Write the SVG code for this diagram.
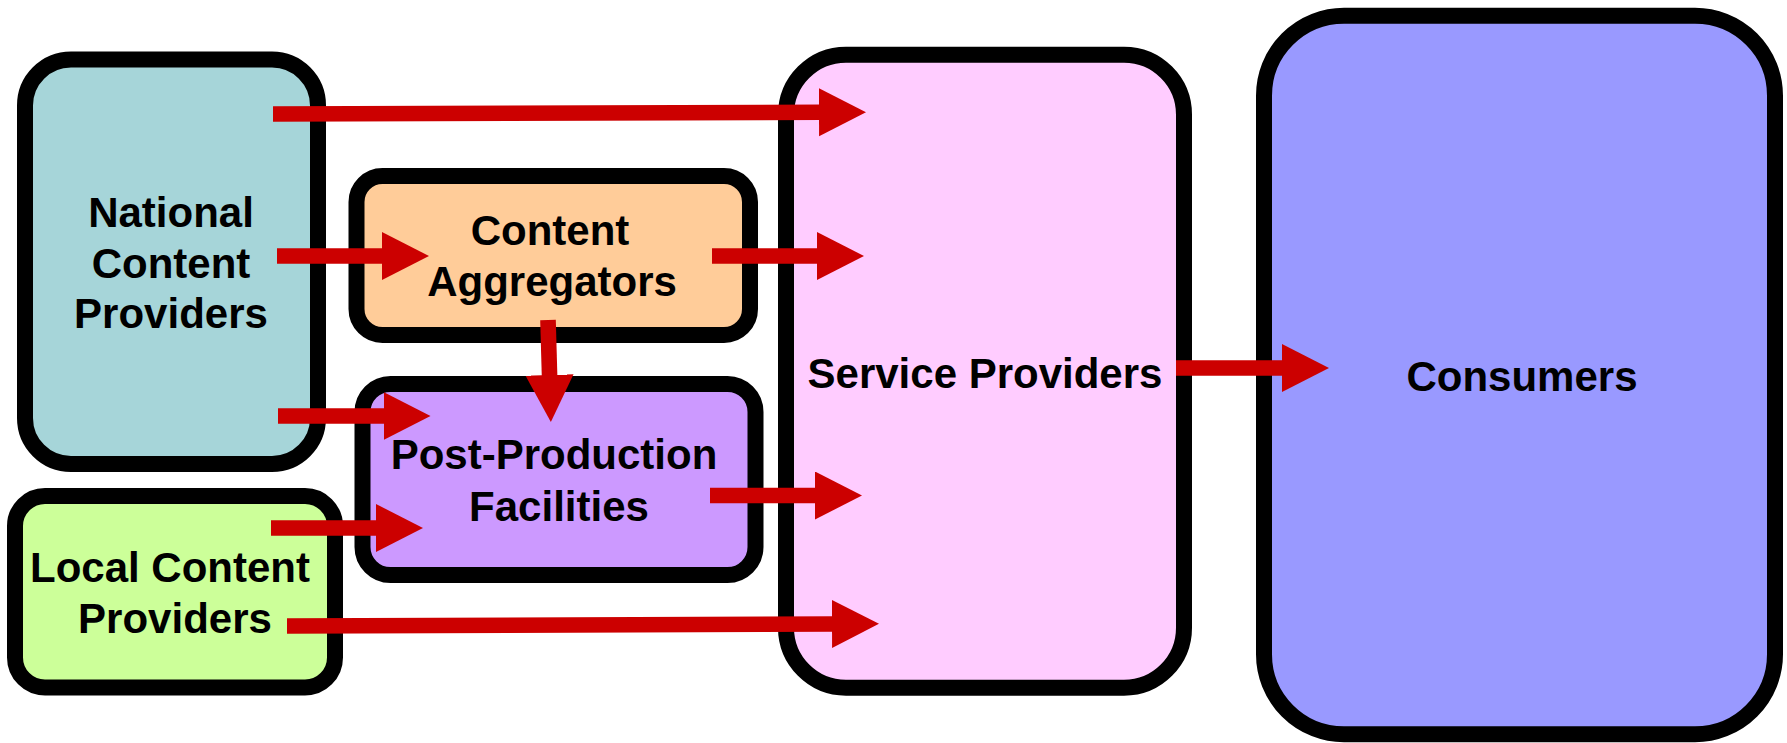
<svg xmlns="http://www.w3.org/2000/svg" width="1787" height="743" viewBox="0 0 1787 743">
<style>
.box{stroke:#000;stroke-width:16}
.lbl{font-family:"Liberation Sans",Arial,sans-serif;font-weight:bold;font-size:42px;fill:#000;text-anchor:middle}
.arr{stroke:#CC0000;stroke-width:15.6;fill:none;marker-end:url(#head)}
</style>
<defs>
<marker id="head" markerUnits="userSpaceOnUse" markerWidth="50" markerHeight="50" refX="2" refY="24" orient="auto">
<path d="M0,0 L47,24 L0,48 Z" fill="#CC0000"/>
</marker>
</defs>
<rect width="1787" height="743" fill="#fff"/>
<g id="national">
<rect class="box" x="25" y="59.5" width="293" height="404.5" rx="46" fill="#A6D5D9"/>
<text class="lbl" x="171" y="227">National</text>
<text class="lbl" x="171" y="278">Content</text>
<text class="lbl" x="171" y="328">Providers</text>
</g>
<g id="aggregators">
<rect class="box" x="356.5" y="176" width="393.5" height="159" rx="26" fill="#FFCC99"/>
<text class="lbl" x="550" y="245">Content</text>
<text class="lbl" x="552" y="296">Aggregators</text>
</g>
<g id="postproduction">
<rect class="box" x="362.5" y="384" width="393" height="191" rx="28" fill="#CC99FF"/>
<text class="lbl" x="554" y="469">Post-Production</text>
<text class="lbl" x="559" y="521">Facilities</text>
</g>
<g id="local">
<rect class="box" x="15" y="496" width="320" height="191.5" rx="30" fill="#CCFF99"/>
<text class="lbl" x="170" y="582">Local Content</text>
<text class="lbl" x="175" y="633">Providers</text>
</g>
<g id="service">
<rect class="box" x="786" y="54.7" width="398" height="633" rx="60" fill="#FFCCFF"/>
<text class="lbl" x="985" y="388">Service Providers</text>
</g>
<g id="consumers">
<rect class="box" x="1264" y="15.7" width="511" height="718.6" rx="80" fill="#9999FF"/>
<text class="lbl" x="1522" y="391">Consumers</text>
</g>
<g id="connectors">
<line class="arr" x1="273" y1="114" x2="821" y2="112.3"/>
<line class="arr" x1="277" y1="256" x2="384" y2="256"/>
<line class="arr" x1="712" y1="256" x2="819" y2="256"/>
<line class="arr" x1="548" y1="320" x2="549.6" y2="377"/>
<line class="arr" x1="278" y1="416" x2="385.5" y2="416"/>
<line class="arr" x1="271" y1="528" x2="378" y2="528"/>
<line class="arr" x1="710" y1="495.5" x2="817" y2="495.5"/>
<line class="arr" x1="287" y1="626" x2="834" y2="624"/>
<line class="arr" x1="1176" y1="368" x2="1284" y2="368"/>
</g>
</svg>
